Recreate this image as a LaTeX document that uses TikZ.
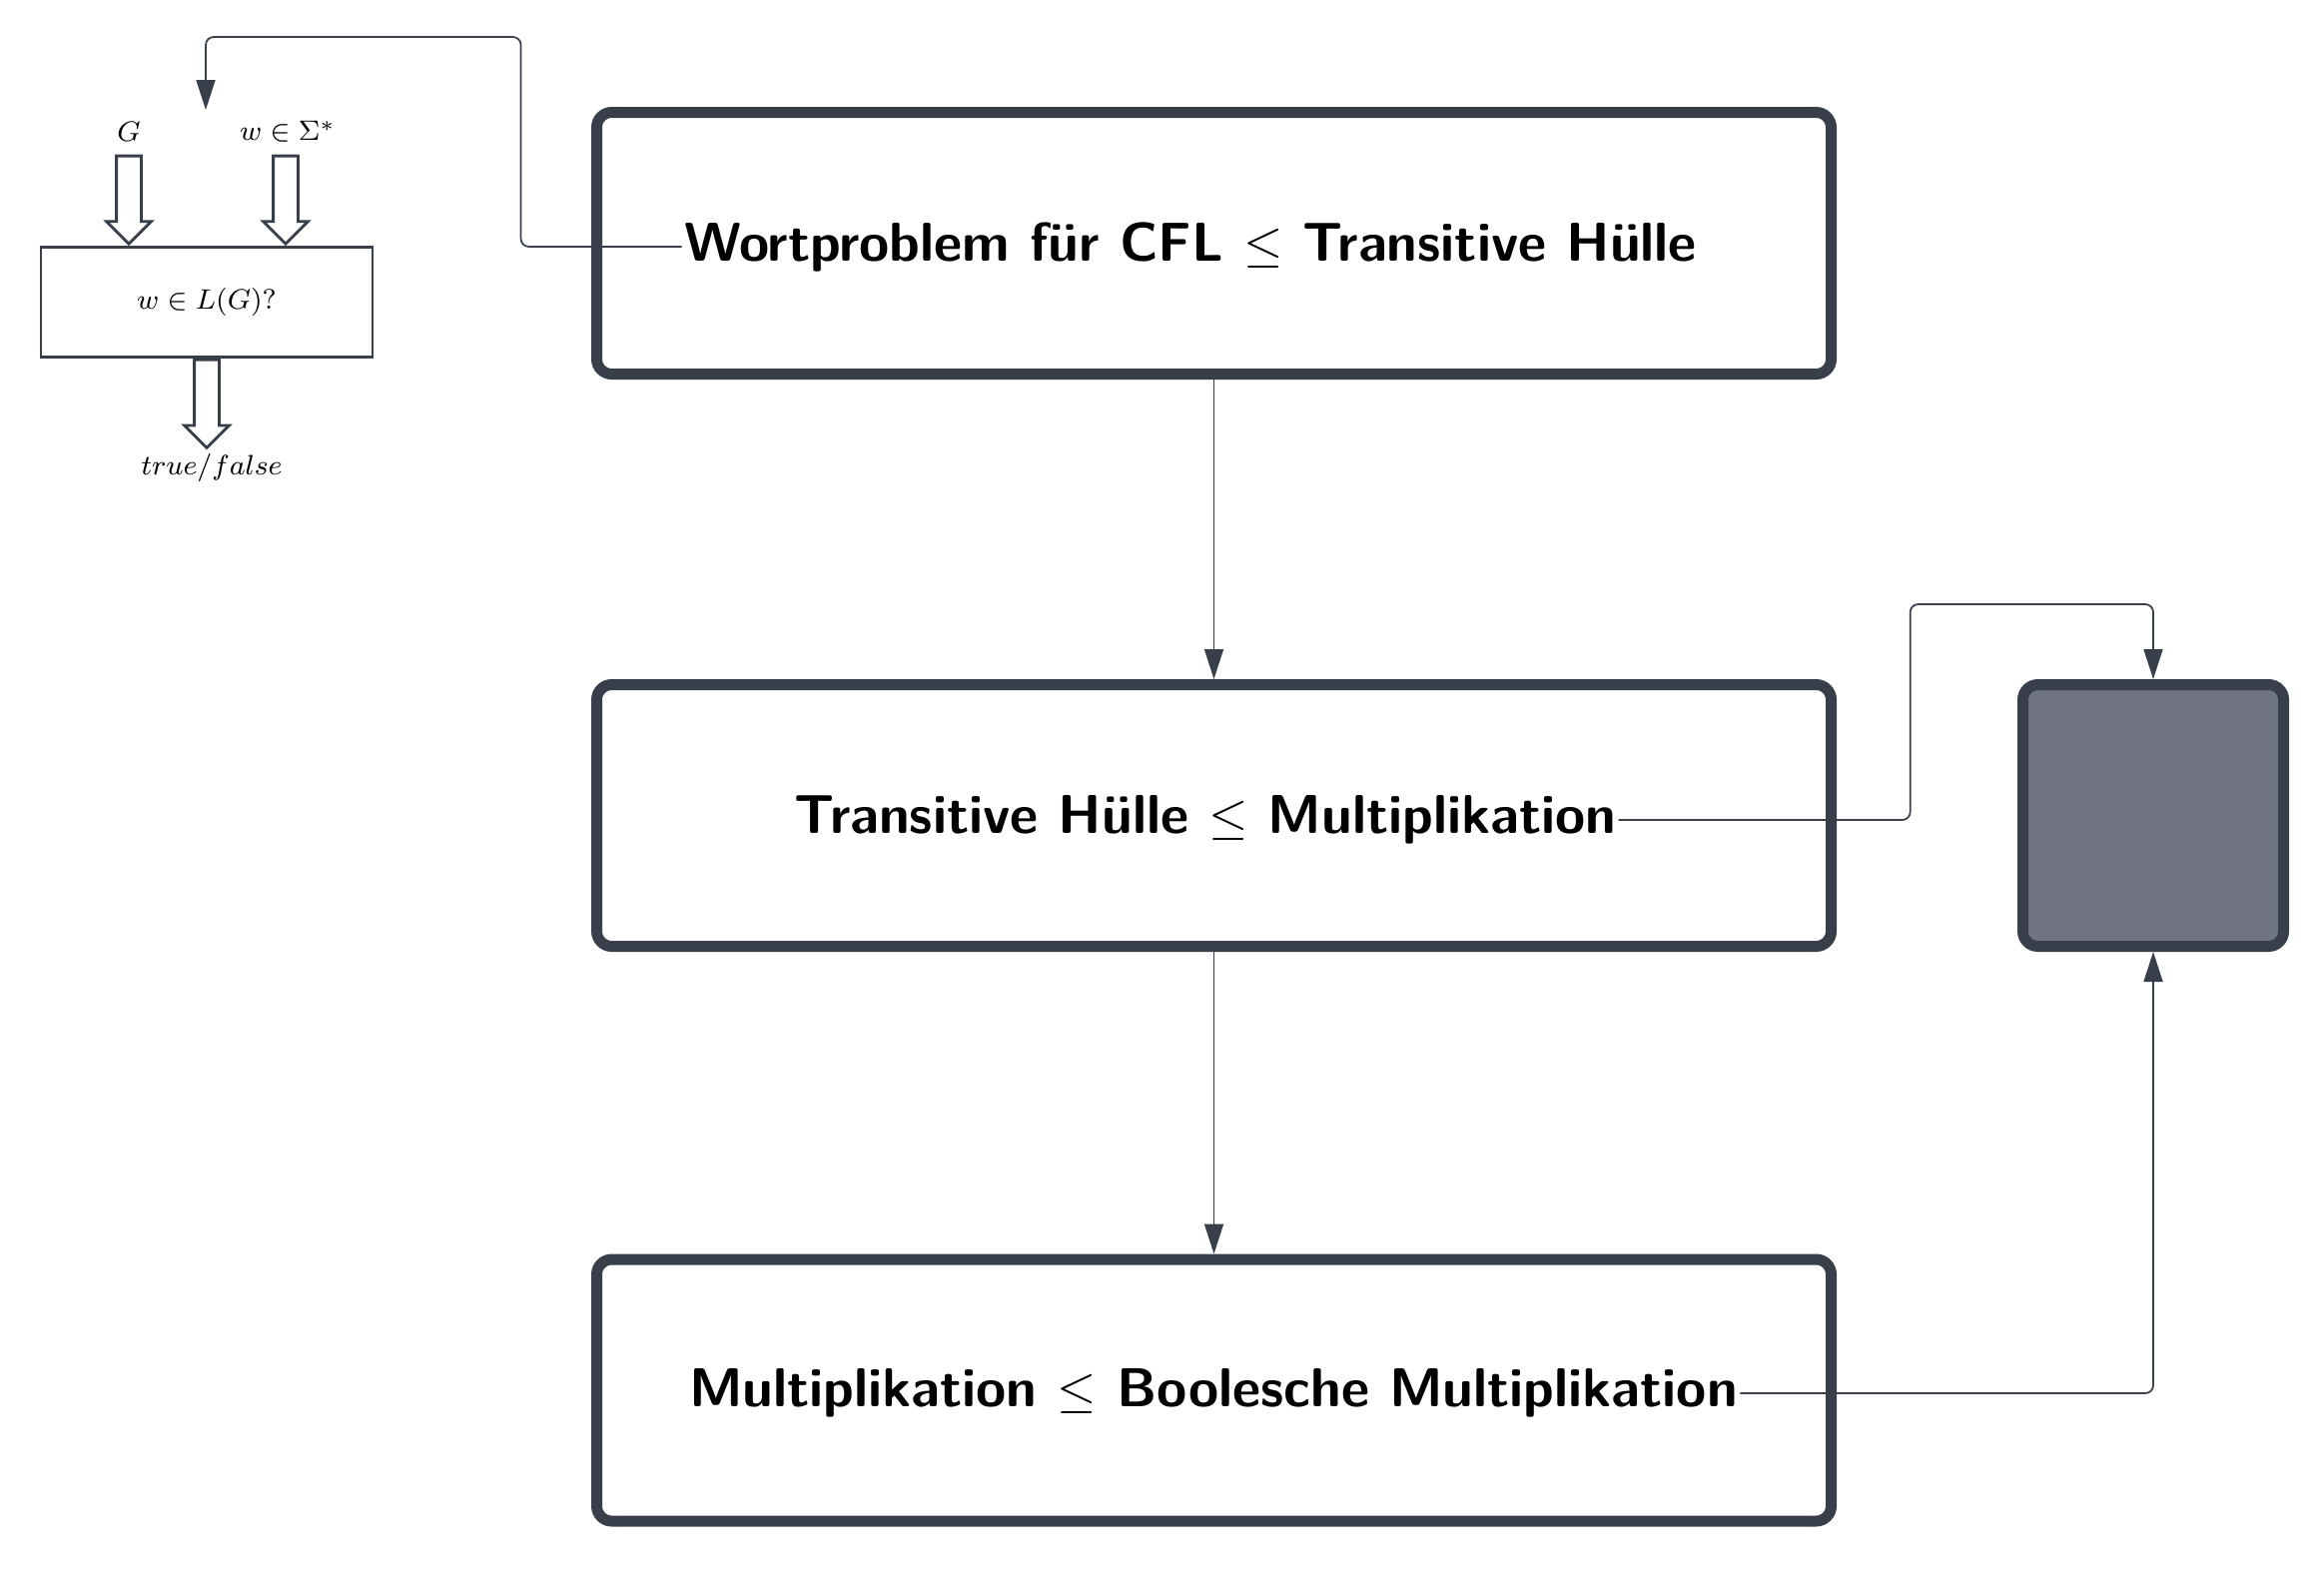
\documentclass[tikz,border=0pt]{standalone}
\usetikzlibrary{calc}
\usetikzlibrary{shapes.arrows}
\usetikzlibrary{arrows.meta}

\definecolor{edge}{HTML}{393F4A}
\definecolor{slate}{HTML}{6F7480}

\begin{document}
\begin{tikzpicture}[stage/.style={rectangle, draw=edge, line width=0.11cm, rounded corners=0.15cm, minimum width=12.36cm, minimum height=2.62cm},
	sink/.style={stage, fill=slate, minimum width=2.61cm},
	caption/.style={inner sep=0.5pt, font=\fontsize{15.6}{18}\selectfont\sffamily\bfseries},
	small/.style={font=\fontsize{8.5}{10}\selectfont},
	link/.style={draw=edge, line width=0.5pt, rounded corners=0.08cm, -{Triangle[length=0.3cm, width=0.19cm]}},
	hollow/.style={single arrow, draw=edge, line width=0.8pt, minimum width=0.42cm, minimum height=0.88cm, single arrow head extend=0.1cm, inner xsep=0pt, inner ysep=0.11cm}]

		\useasboundingbox (0,0) rectangle (23.27,-15.75);

		% the small decision box
		\node[small] (G) at (1.29,-1.32) {$G$};
		\node[small] (word) at (2.88,-1.32) {$w \in \Sigma^*$};
		\node[small, rectangle, draw=edge, line width=0.8pt, minimum width=3.32cm, minimum height=1.10cm] (query) at (2.07,-3.025) {$w \in L(G)?$};
		\node[hollow, rotate=-90, anchor=tip] (garrow) at (query.north -| G) {};
		\node[hollow, rotate=-90, anchor=tip] (warrow) at ($(query.north -| word)+(-0.02,0)$) {};
		\node[hollow, rotate=-90, anchor=tail] (oarrow) at (query.south) {};
		\node[small] (verdict) at (2.12,-4.68) {$true/false$};
		\coordinate (back) at (2.06,-1.10);

		\node[stage] (wort) at (12.155,-2.435) {};
		\node[stage] (trans) at (12.155,-8.165) {};
		\node[stage] (mult) at (12.155,-13.92) {};
		\node[sink] (end) at (21.56,-8.165) {};

		\node[caption] (wtext) at (11.92,-2.47) {Wortproblem für CFL $\leq$ Transitive Hülle};
		\node[caption] (ttext) at (12.07,-8.21) {Transitive Hülle $\leq$ Multiplikation};
		\node[caption] (mtext) at (12.15,-13.95) {Multiplikation $\leq$ Boolesche Multiplikation};

		\draw[link] (wtext.west) -- ++(-1.61,0) |- ($(back)+(0,0.73)$) -- (back);
		\draw[link] (wort) -- (trans);
		\draw[link] (trans) -- (mult);
		\draw[link] (ttext.east) -- ++(2.92,0) |- ($(end.north)+(0,0.75)$) -- (end.north);
		\draw[link] (mtext.east) -| (end.south);
\end{tikzpicture}
\end{document}
